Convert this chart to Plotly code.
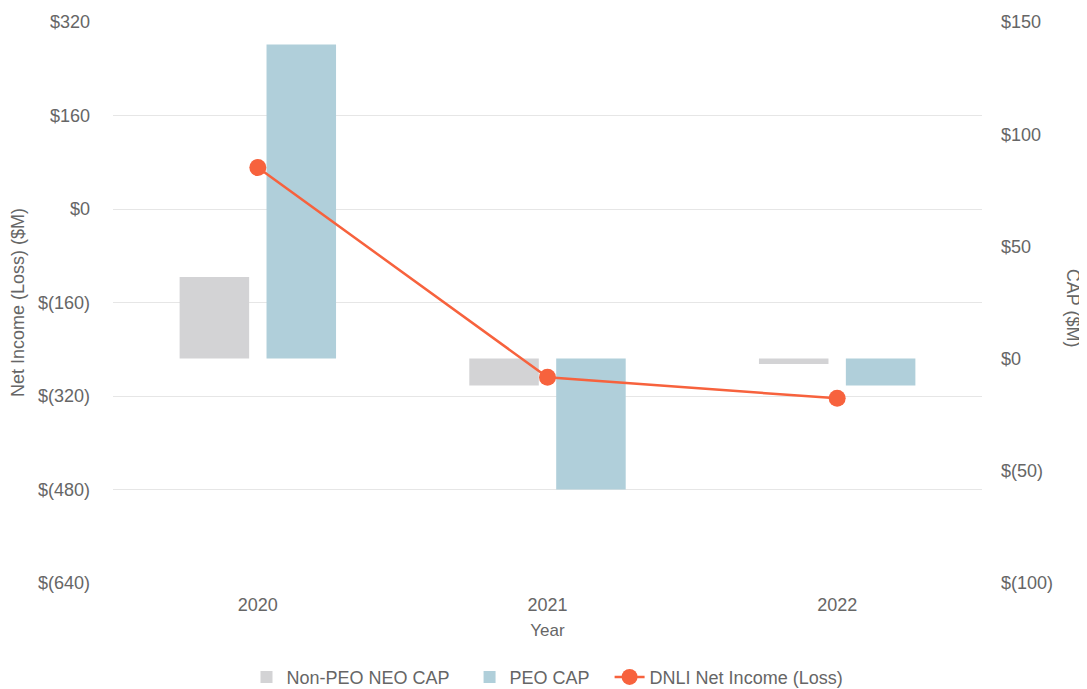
import plotly.graph_objects as go

years = ["2020", "2021", "2022"]
non_peo_cap = [36.4, -12.0, -2.4]
peo_cap = [140.0, -58.3, -12.0]
net_income = [71.0, -288.0, -324.0]

left_tickvals = [320, 160, 0, -160, -320, -480, -640]
left_ticktext = ["$320", "$160", "$0", "$(160)", "$(320)", "$(480)", "$(640)"]
right_tickvals = [150, 100, 50, 0, -50, -100]
right_ticktext = ["$150", "$100", "$50", "$0", "$(50)", "$(100)"]

FONT = "Liberation Sans, Arial, sans-serif"
GRAY = "#666666"
PAD = "\u00a0\u00a0\u00a0"  # extra spacing between legend entries

fig = go.Figure()
fig.add_trace(go.Bar(x=years, y=non_peo_cap, name="Non-PEO NEO CAP" + PAD,
                     marker=dict(color="#D3D3D5", line=dict(width=0)), yaxis="y"))
fig.add_trace(go.Bar(x=years, y=peo_cap, name="PEO CAP" + PAD,
                     marker=dict(color="#B0CFDA", line=dict(width=0)), yaxis="y"))
fig.add_trace(go.Scatter(x=years, y=net_income, name="DNLI Net Income (Loss)",
                         mode="lines+markers", yaxis="y2",
                         line=dict(color="#F7623D", width=2.5),
                         marker=dict(color="#F7623D", size=17)))

# the page body adds an 8px offset; margins compensate for it
fig.update_layout(
    width=1087, height=689,
    margin=dict(l=105, r=113, t=14, b=114, autoexpand=False),
    paper_bgcolor="white", plot_bgcolor="white",
    font=dict(family=FONT, size=18, color=GRAY),
    barmode="group", bargap=0.4, bargroupgap=0.2,
    xaxis=dict(type="category", title=dict(text="Year", standoff=10, font=dict(size=17)),
               showgrid=False, zeroline=False, showline=False, automargin=False,
               ticks="", ticklabelstandoff=9),
    yaxis=dict(range=[-100, 150], tickvals=right_tickvals, ticktext=right_ticktext,
               side="right", showgrid=False,
               zeroline=False, showline=False, ticks="", automargin=False,
               ticklabelstandoff=18),
    yaxis2=dict(range=[-640, 320], tickvals=left_tickvals, ticktext=left_ticktext,
                overlaying="y", side="left", showgrid=True, gridcolor="#E6E6E6", gridwidth=1,
                zeroline=False, showline=False, ticks="", automargin=False,
                ticklabelstandoff=22,
                title=dict(text="Net Income (Loss) ($M)", standoff=9, font=dict(size=18))),
    legend=dict(orientation="h", x=0.5, xanchor="center", y=-0.135, yanchor="top",
                font=dict(size=18, color=GRAY), traceorder="normal",
                itemwidth=30),
    annotations=[dict(text="CAP ($M)", textangle=90, xref="paper", yref="paper",
                      x=1.105, y=0.49, showarrow=False, xanchor="center", yanchor="middle",
                      font=dict(size=18, color=GRAY))],
)

fig.write_html("out.html")
